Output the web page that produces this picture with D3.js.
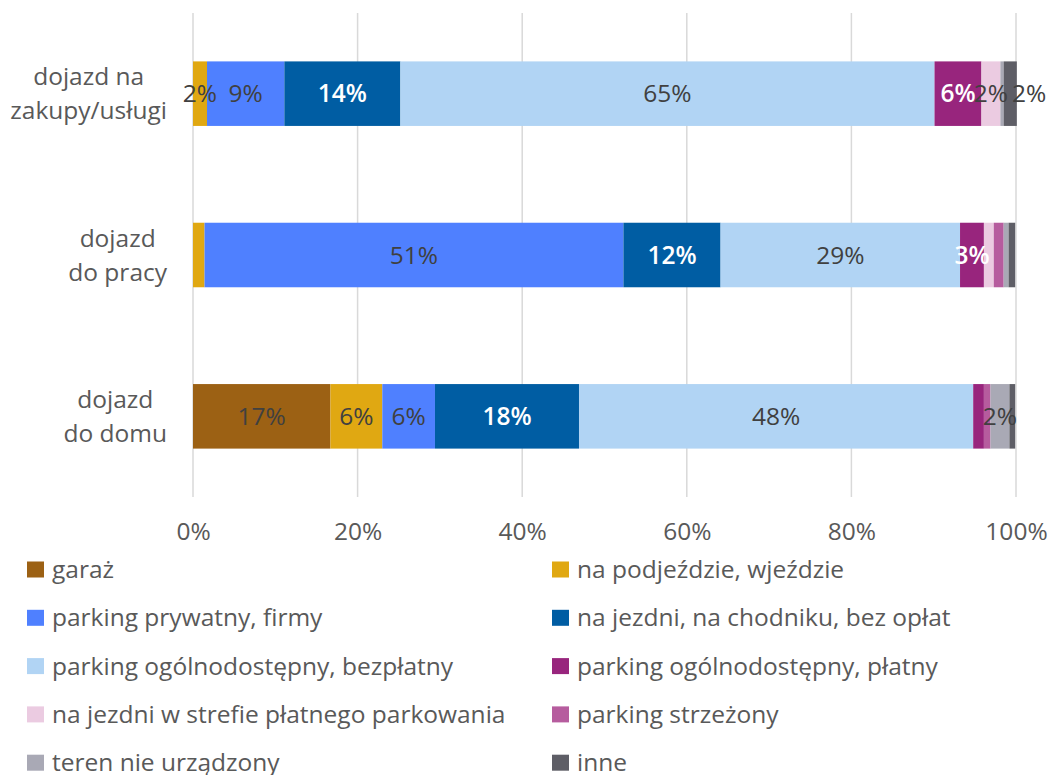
<!DOCTYPE html>
<html>
<head>
<meta charset="utf-8">
<script src="https://cdn.jsdelivr.net/npm/d3@7"></script>
<style>
  html, body { margin: 0; padding: 0; background: #fff; }
  svg { display: block; }
  text { font-family: "Open Sans", sans-serif; }
</style>
</head>
<body>
<script>
// ---- data ----
const categories = [["dojazd na", "zakupy/usługi"], ["dojazd", "do pracy"], ["dojazd", "do domu"]];
const categoryKeys = ["zakupy", "praca", "dom"];
const seriesNames = [
  "garaż",
  "na podjeździe, wjeździe",
  "parking prywatny, firmy",
  "na jezdni, na chodniku, bez opłat",
  "parking ogólnodostępny, bezpłatny",
  "parking ogólnodostępny, płatny",
  "na jezdni w strefie płatnego parkowania",
  "parking strzeżony",
  "teren nie urządzony",
  "inne"
];
// values per series, in order of categoryKeys (zakupy, praca, dom), in %
const garaz        = [0.0,  0.0, 16.7];
const podjazd      = [1.7,  1.4,  6.3];
const prywatny     = [9.4, 50.9,  6.4];
const jezdniBez    = [14.1, 11.8, 17.5];
const bezplatny    = [64.9, 29.1, 47.9];
const platny       = [5.7,  2.9,  1.3];
const strefa       = [2.3,  1.2,  0.0];
const strzezony    = [0.0,  1.2,  0.8];
const teren        = [0.4,  0.6,  2.3];
const inne         = [1.6,  0.8,  0.7];
const seriesValues = [garaz, podjazd, prywatny, jezdniBez, bezplatny, platny, strefa, strzezony, teren, inne];
const tickValues = [0, 20, 40, 60, 80, 100];

const colors = ["#9C6114", "#E0A812", "#4F80FF", "#005DA3", "#B1D4F4", "#98257D", "#EBCBE1", "#B65C9E", "#A9A9B5", "#5E5E66"];
const whiteLabel = [false, false, false, true, false, true, false, false, false, false];

// ---- layout ----
const W = 1053, H = 775;
const FS = 24.5;
const svg = d3.select("body").append("svg").attr("width", W).attr("height", H);

const x = d3.scaleLinear().domain([0, 100]).range([193, 1016]);
const y = d3.scaleBand().domain(categoryKeys).range([13, 497]).paddingInner(0.6).paddingOuter(0.3);

// gridlines
svg.append("g").selectAll("line").data(tickValues).join("line")
  .attr("x1", d => x(d)).attr("x2", d => x(d))
  .attr("y1", 13).attr("y2", 497)
  .attr("stroke", "#D9D9D9").attr("stroke-width", 1.5);

// stacked data
const rows = categoryKeys.map((k, i) => {
  const o = { key: k };
  seriesNames.forEach((s, j) => { o[s] = seriesValues[j][i]; });
  return o;
});
const stack = d3.stack().keys(seriesNames)(rows);

const gBars = svg.append("g");
stack.forEach((layer, j) => {
  gBars.append("g").attr("fill", colors[j])
    .selectAll("rect").data(layer).join("rect")
    .attr("x", d => x(d[0]))
    .attr("y", d => y(d.data.key))
    .attr("width", d => Math.max(0, x(d[1]) - x(d[0])))
    .attr("height", y.bandwidth());
});

// data labels
const gLabels = svg.append("g");
const lastRight = {};
stack.forEach((layer, j) => {
  layer.forEach(d => {
    const v = d[1] - d[0];
    if (Math.round(v) < 2) return;
    const key = d.data.key;
    const t = gLabels.append("text")
      .attr("x", (x(d[0]) + x(d[1])) / 2)
      .attr("y", y(key) + y.bandwidth() / 2)
      .attr("dy", "0.35em")
      .attr("text-anchor", "middle")
      .attr("font-size", FS)
      .attr("font-weight", whiteLabel[j] ? 600 : 400)
      .attr("fill", whiteLabel[j] ? "#FFFFFF" : "#404040")
      .text(Math.round(v) + "%");
    // simple collision avoidance: push right if overlapping previous label in row
    const w = t.node().getComputedTextLength();
    let cx = (x(d[0]) + x(d[1])) / 2;
    if (lastRight[key] !== undefined && cx - w / 2 < lastRight[key] - 6) {
      cx = lastRight[key] + 4 + w / 2;
      t.attr("x", cx);
    }
    lastRight[key] = cx + w / 2;
  });
});

// x axis tick labels
const xAxis = d3.axisBottom(x).tickValues(tickValues).tickFormat(d => d + "%").tickSize(0).tickPadding(0);
const gx = svg.append("g").attr("transform", "translate(0,523)").call(xAxis);
gx.select(".domain").remove();
gx.selectAll("text").attr("font-size", FS).attr("fill", "#595959").attr("font-family", "Open Sans, sans-serif");

// category labels (right-aligned block, centered lines)
const gCat = svg.append("g");
categoryKeys.forEach((k, i) => {
  const cy = y(k) + y.bandwidth() / 2;
  const lines = categories[i];
  const t = gCat.append("g");
  const texts = lines.map((ln, li) => t.append("text")
    .attr("y", cy + (li - (lines.length - 1) / 2) * 34)
    .attr("dy", "0.35em")
    .attr("text-anchor", "middle")
    .attr("font-size", FS)
    .attr("fill", "#595959")
    .text(ln));
  const maxW = d3.max(texts, tx => tx.node().getComputedTextLength());
  texts.forEach(tx => tx.attr("x", 167 - maxW / 2));
});

// legend
const legend = svg.append("g");
seriesNames.forEach((s, j) => {
  const col = j % 2, row = Math.floor(j / 2);
  const lx = col === 0 ? 27 : 552;
  const ly = 569.5 + row * 48.3;
  legend.append("rect").attr("x", lx).attr("y", ly - 8).attr("width", 17).attr("height", 16).attr("fill", colors[j]);
  legend.append("text").attr("x", lx + 25).attr("y", ly).attr("dy", "0.35em")
    .attr("font-size", FS).attr("fill", "#595959").text(s);
});
</script>
</body>
</html>
